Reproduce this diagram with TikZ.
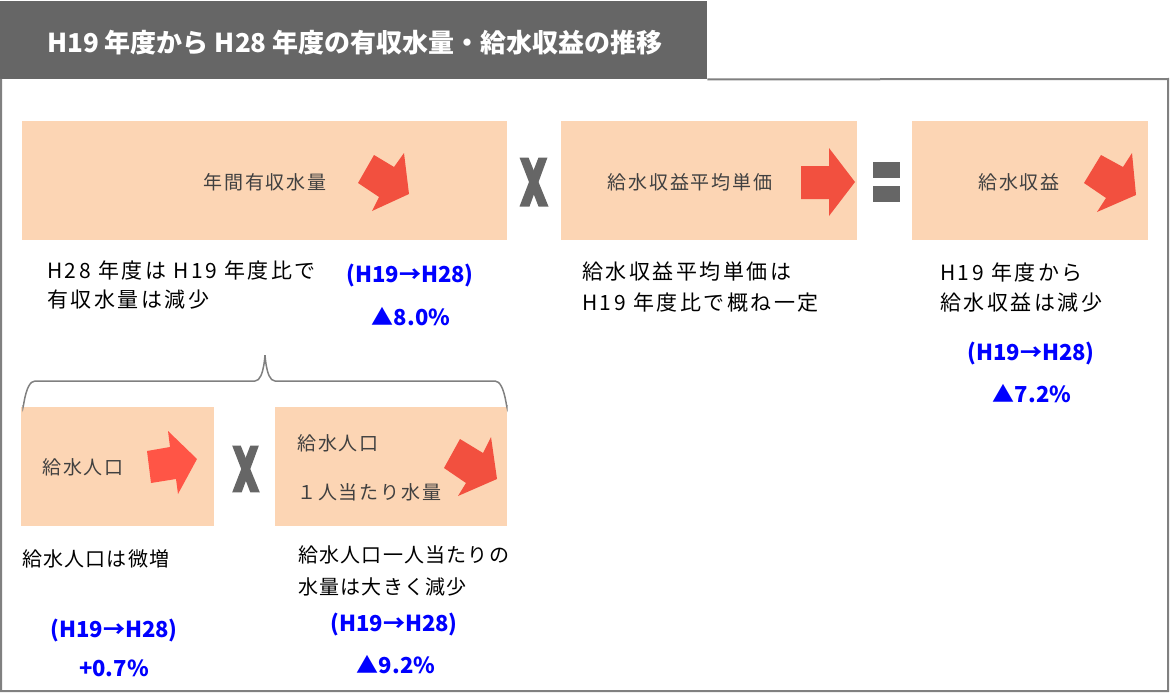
\documentclass[tikz,border=0pt]{standalone}
\usepackage{fontspec}
\setmainfont{Noto Sans CJK JP}
\newfontfamily\lblfont{Noto Sans CJK JP}[LetterSpace=10]
\newfontfamily\bodyfont{Noto Sans CJK JP}[LetterSpace=12]
\newfontfamily\bodysfont{Noto Sans CJK JP}[LetterSpace=6]
\definecolor{peach}{HTML}{FCD5B4}
\definecolor{headgray}{HTML}{666666}
\definecolor{framegray}{HTML}{808080}
\definecolor{labelgray}{HTML}{404040}
\definecolor{arrowred}{HTML}{F2503F}
\definecolor{arrowred2}{HTML}{FF5546}
\definecolor{blueC}{HTML}{0000FF}
\definecolor{xgray}{HTML}{666666}
\tikzset{
  box/.style={fill=peach, draw=none, inner sep=0, anchor=north west, minimum height=119},
  lbl/.style={text=labelgray, font=\lblfont\fontsize{19}{22}\selectfont, inner sep=0},
  body/.style={text=black, font=\bodyfont\fontsize{21}{25}\selectfont, anchor=west, inner sep=0},
  bodys/.style={text=black, font=\bodysfont\fontsize{20}{24}\selectfont, anchor=west, inner sep=0},
  bluetxt/.style={text=blueC, font=\bfseries\fontsize{22}{26}\selectfont, inner sep=0},
  redarrow/.style={fill=arrowred, draw=none},
  xsym/.pic={
    \fill[xgray] (-14.5,-24.5) -- (-5.5,-24.5) -- (14.5,24.5) -- (4.5,24.5) -- cycle;
    \fill[xgray] (4.5,-24.5) -- (13.5,-24.5) -- (-4.5,24.5) -- (-14.5,24.5) -- cycle;
  }
}
\begin{document}
\begin{tikzpicture}[x=1pt,y=-1pt]
\useasboundingbox (0,0) rectangle (1170,693);
% header
\node[fill=headgray, minimum width=707, minimum height=78, anchor=north west, inner sep=0] (hdr) at (0,1) {};
\node[text=white, font=\bfseries\fontsize{26}{30}\selectfont, anchor=west, inner sep=0] (title) at (47,43) {H19 年度から H28 年度の有収水量・給水収益の推移};
% frame
\coordinate (fr1) at (1168,79);
\coordinate (fr2) at (1168,691);
\coordinate (fr3) at (1,691);
\coordinate (fr4) at (1,79);
\draw[framegray, line width=2] (hdr.south east) -- (fr1) -- (fr2) -- (fr3) -- (fr4);
% boxes
\node[box, minimum width=485] (b1) at (22,121) {};
\node[box, minimum width=296] (b2) at (561,121) {};
\node[box, minimum width=236] (b3) at (912,121) {};
\node[box, minimum width=193] (b4) at (21,407) {};
\node[box, minimum width=232] (b5) at (275,407) {};
% box labels
\node[lbl] (l1) at (265,182) {年間有収水量};
\node[lbl] (l2) at (690,182) {給水収益平均単価};
\node[lbl] (l3) at (1019,182) {給水収益};
\node[lbl, anchor=west] (l4) at (42,467) {給水人口};
\node[lbl, anchor=west] (l5a) at (297,443) {給水人口};
\node[lbl, anchor=west] (l5b) at (297,492) {１人当たり水量};
% arrows
\fill[redarrow] (374,155) -- (394,167) -- (404,153) -- (409,194) -- (372,211) -- (379,197) -- (358,183) -- cycle;
\fill[redarrow] (801,166) -- (829,166) -- (829,148) -- (855,182) -- (829,216) -- (829,199) -- (801,199) -- cycle;
\fill[redarrow] (1101,155) -- (1123,167) -- (1132,153) -- (1136,195) -- (1097,212) -- (1106,198) -- (1084,183) -- cycle;
\fill[fill=arrowred2] (147,451) -- (170,447) -- (168,431) -- (197,459) -- (178,494) -- (176,479) -- (151,483) -- cycle;
\fill[redarrow] (460,439) -- (483,453) -- (491,437) -- (497,479) -- (458,496) -- (466,483) -- (444,468) -- cycle;
% operators
\pic at (534,182) {xsym};
\pic[scale=0.95] at (246,469) {xsym};
\fill[xgray] (873,162) rectangle (900,178);
\fill[xgray] (873,186) rectangle (900,202);
% brace
\coordinate (brL) at (23,405);
\coordinate (brT) at (265,357);
\coordinate (brR) at (507,405);
\draw[framegray, line width=1.5] (brL) to[out=-90,in=180] (35,381) -- (255,381) to[out=0,in=90] (brT)
   (brT) to[out=90,in=180] (275,381) -- (495,381) to[out=0,in=-90] (brR);
% body text
\node[body] (t1a) at (47,270) {H28 年度は H19 年度比で};
\node[body] (t1b) at (47,300) {有収水量は減少};
\node[body] (t2a) at (582,272) {給水収益平均単価は};
\node[body] (t2b) at (582,303) {H19 年度比で概ね一定};
\node[body] (t3a) at (940,272) {H19 年度から};
\node[body] (t3b) at (940,303) {給水収益は減少};
\node[bodys] (t4) at (22,559) {給水人口は微増};
\node[bodys] (t5a) at (298,555) {給水人口一人当たりの};
\node[bodys] (t5b) at (298,587) {水量は大きく減少};
% blue
\node[bluetxt] (p1) at (410,276) {(H19→H28)};
\node[bluetxt] (v1) at (411,317) {▲8.0\%};
\node[bluetxt] (p3) at (1031,354) {(H19→H28)};
\node[bluetxt] (v3) at (1032,394) {▲7.2\%};
\node[bluetxt] (p4) at (114,630) {(H19→H28)};
\node[bluetxt] (v4) at (114,668) {+0.7\%};
\node[bluetxt] (p5) at (394,624) {(H19→H28)};
\node[bluetxt] (v5) at (396,665) {▲9.2\%};
\end{tikzpicture}
\end{document}
